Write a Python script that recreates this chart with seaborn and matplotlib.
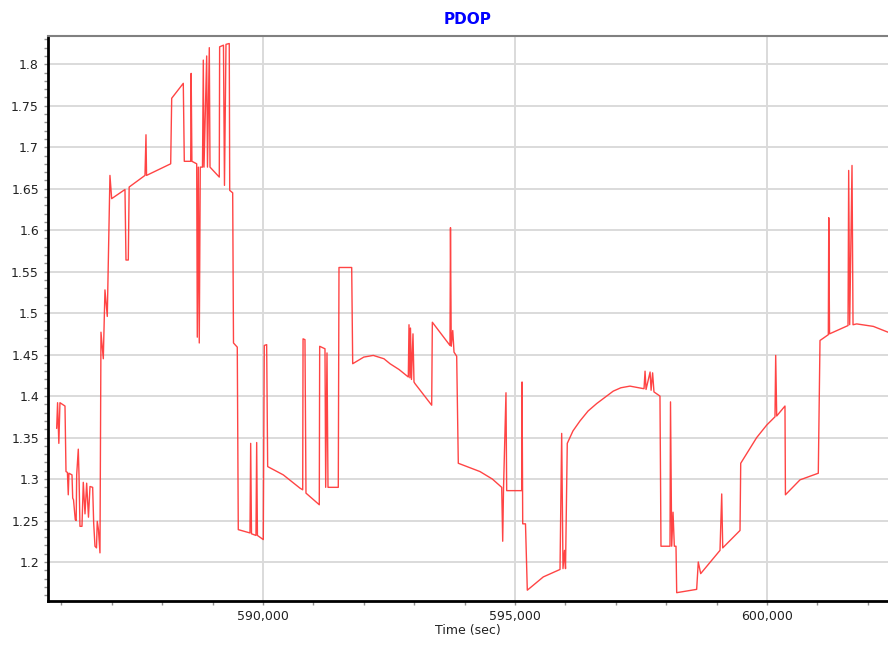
import numpy as np
import pandas as pd
import seaborn as sns
from matplotlib import pyplot as plt
from matplotlib.ticker import FuncFormatter, MultipleLocator

# GPS time of week (sec) and PDOP
time_sec = [
    585907, 585925, 585950, 585972, 586072, 586092, 586120, 586137, 586150, 586211,
    586225, 586241, 586276, 586294, 586304, 586336, 586350, 586369, 586409, 586435,
    586469, 586502, 586538, 586568, 586621, 586641, 586667, 586697, 586712, 586736,
    586766, 586786, 586832, 586865, 586911, 586964, 586998, 587262, 587282, 587328,
    587345, 587659, 587679, 587690, 588169, 588189, 588419, 588439, 588566, 588575,
    588590, 588685, 588697, 588717, 588736, 588756, 588800, 588816, 588830, 588883,
    588899, 588935, 588949, 589133, 589140, 589216, 589236, 589266, 589331, 589340,
    589399, 589415, 589490, 589510, 589742, 589756, 589772, 589861, 589875, 589890,
    590006, 590026, 590073, 590093, 590403, 590734, 590788, 590795, 590833, 590853,
    591117, 591125, 591230, 591244, 591270, 591290, 591494, 591508, 591760, 591780,
    592000, 592188, 592400, 592520, 592700, 592883, 592897, 592915, 592926, 592946,
    592976, 592996, 593016, 593347, 593360, 593710, 593720, 593735, 593765, 593790,
    593843, 593875, 594305, 594550, 594736, 594756, 594772, 594821, 594835, 595133,
    595140, 595153, 595208, 595244, 595561, 595893, 595926, 595952, 595982, 596002,
    596037, 596150, 596289, 596450, 596621, 596950, 597100, 597281, 597545, 597560,
    597580, 597600, 597680, 597700, 597730, 597757, 597876, 597896, 598075, 598085,
    598109, 598135, 598161, 598194, 598208, 598604, 598636, 598684, 599067, 599101,
    599121, 599464, 599478, 599795, 599993, 600158, 600172, 600192, 600356, 600365,
    600654, 601017, 601051, 601216, 601225, 601240, 601607, 601620, 601640, 601686,
    601706, 601779, 602109, 602400,
]
pdop = [
    1.361, 1.392, 1.343, 1.392, 1.388, 1.309, 1.308, 1.281, 1.307, 1.305,
    1.277, 1.275, 1.251, 1.250, 1.305, 1.336, 1.305, 1.243, 1.243, 1.296,
    1.258, 1.295, 1.254, 1.291, 1.290, 1.247, 1.219, 1.217, 1.249, 1.239,
    1.211, 1.477, 1.445, 1.528, 1.496, 1.666, 1.638, 1.649, 1.564, 1.564,
    1.652, 1.666, 1.715, 1.666, 1.680, 1.759, 1.777, 1.683, 1.683, 1.789,
    1.683, 1.680, 1.471, 1.676, 1.464, 1.676, 1.676, 1.805, 1.676, 1.810,
    1.676, 1.820, 1.676, 1.664, 1.821, 1.823, 1.654, 1.824, 1.825, 1.648,
    1.645, 1.464, 1.459, 1.239, 1.235, 1.343, 1.234, 1.232, 1.344, 1.232,
    1.227, 1.461, 1.462, 1.315, 1.305, 1.289, 1.287, 1.469, 1.468, 1.283,
    1.269, 1.460, 1.457, 1.290, 1.452, 1.290, 1.290, 1.555, 1.555, 1.439,
    1.447, 1.449, 1.445, 1.439, 1.432, 1.423, 1.486, 1.422, 1.482, 1.420,
    1.475, 1.417, 1.415, 1.389, 1.489, 1.461, 1.603, 1.460, 1.479, 1.453,
    1.448, 1.319, 1.309, 1.300, 1.290, 1.225, 1.288, 1.404, 1.286, 1.286,
    1.417, 1.246, 1.246, 1.166, 1.182, 1.191, 1.355, 1.192, 1.214, 1.192,
    1.343, 1.358, 1.370, 1.382, 1.391, 1.406, 1.410, 1.412, 1.409, 1.409,
    1.430, 1.408, 1.429, 1.407, 1.428, 1.405, 1.400, 1.219, 1.219, 1.393,
    1.219, 1.260, 1.219, 1.219, 1.163, 1.167, 1.200, 1.186, 1.214, 1.282,
    1.217, 1.238, 1.319, 1.350, 1.365, 1.375, 1.449, 1.376, 1.388, 1.281,
    1.299, 1.307, 1.467, 1.474, 1.615, 1.475, 1.485, 1.672, 1.486, 1.678,
    1.486, 1.487, 1.484, 1.477,
]

x_ticks = [590000, 595000, 600000]

df = pd.DataFrame({"time": time_sec, "pdop": pdop})

sns.set_style("whitegrid")
plt.rcParams["font.family"] = ["DejaVu Sans"]

fig = plt.figure(figsize=(8.88, 6.46), dpi=100)
ax = fig.add_axes([0.054, 0.0697, 0.946, 0.8745])

sns.lineplot(data=df, x="time", y="pdop", ax=ax, estimator=None, sort=False,
             color="#ff3030", linewidth=1.0, alpha=0.9)

ax.set_xlim(585734, 602400)
ax.set_ylim(1.153, 1.834)
ax.set_xticks(x_ticks)
ax.xaxis.set_minor_locator(MultipleLocator(1000))
ax.yaxis.set_major_locator(MultipleLocator(0.05))
ax.yaxis.set_minor_locator(MultipleLocator(0.01))
ax.xaxis.set_major_formatter(FuncFormatter(lambda v, p: f"{v:,.0f}"))
ax.yaxis.set_major_formatter(FuncFormatter(lambda v, p: f"{v:g}"))

ax.grid(True, which="major", color="#dadada", linewidth=1.4)
ax.grid(False, which="minor")
ax.tick_params(axis="both", which="both", direction="out", colors="#909090",
               labelcolor="#222222", labelsize=9, left=True, bottom=True)
ax.tick_params(axis="both", which="major", length=3, width=1)
ax.tick_params(axis="both", which="minor", length=3, width=1)

for side in ["left", "bottom"]:
    ax.spines[side].set_color("black")
    ax.spines[side].set_linewidth(2)
ax.spines["top"].set_color("#808080")
ax.spines["top"].set_linewidth(1.5)
ax.spines["right"].set_visible(False)

ax.set_xlabel("Time (sec)", fontsize=9, color="#222222", labelpad=1)
ax.set_ylabel("")
ax.set_title("PDOP", fontsize=11, fontweight="bold", color="#0000ff", pad=9)

fig.savefig("out.png", dpi=100)
